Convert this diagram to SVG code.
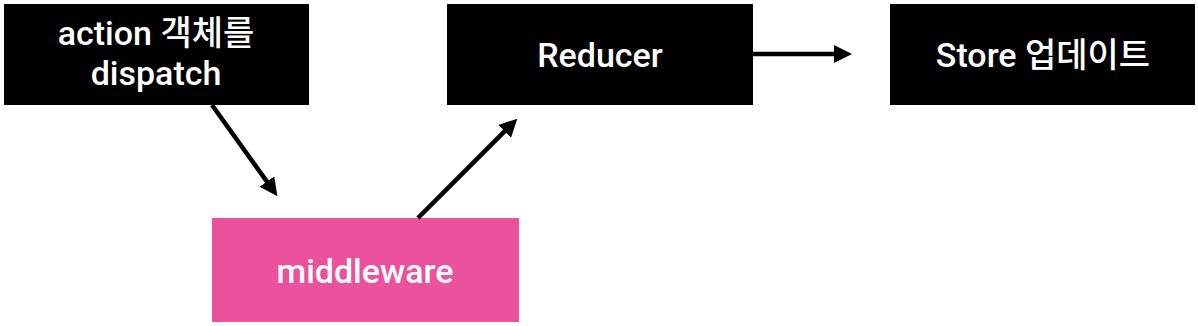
<svg xmlns="http://www.w3.org/2000/svg" width="1198" height="326" viewBox="0 0 1198 326">
  <style>
    .box { fill: #000000; }
    .pink { fill: #EB519C; }
    .label { fill: #ffffff; font-family: Roboto, "Noto Sans CJK KR", sans-serif; font-weight: 500; font-size: 34px; text-anchor: middle; }
    .conn { stroke: #000000; stroke-width: 4.5; fill: none; }
  </style>
  <defs>
    <marker id="arrow" markerUnits="userSpaceOnUse" markerWidth="20" markerHeight="20" refX="1" refY="9" orient="auto">
      <path d="M0,0 L18,9 L0,18 z" fill="#000000"/>
    </marker>
  </defs>
  <rect x="0" y="0" width="1198" height="326" fill="#ffffff"/>
  <g id="node-action">
    <rect class="box" x="4" y="4" width="305" height="101"/>
    <text class="label" x="156" y="45">action 객체를</text>
    <text class="label" x="156" y="85">dispatch</text>
  </g>
  <g id="node-reducer">
    <rect class="box" x="447" y="4" width="306" height="101"/>
    <text class="label" x="600" y="67">Reducer</text>
  </g>
  <g id="node-store">
    <rect class="box" x="890" y="4" width="305" height="101"/>
    <text class="label" x="1043" y="67">Store 업데이트</text>
  </g>
  <g id="node-middleware">
    <rect class="pink" x="212" y="218" width="307" height="104"/>
    <text class="label" x="365" y="283">middleware</text>
  </g>
  <g id="connectors">
    <line class="conn" x1="212" y1="105" x2="267.5" y2="182.4" marker-end="url(#arrow)"/>
    <line class="conn" x1="418" y1="218" x2="505.3" y2="130.7" marker-end="url(#arrow)"/>
    <line class="conn" x1="753" y1="54" x2="835" y2="54" marker-end="url(#arrow)"/>
  </g>
</svg>
